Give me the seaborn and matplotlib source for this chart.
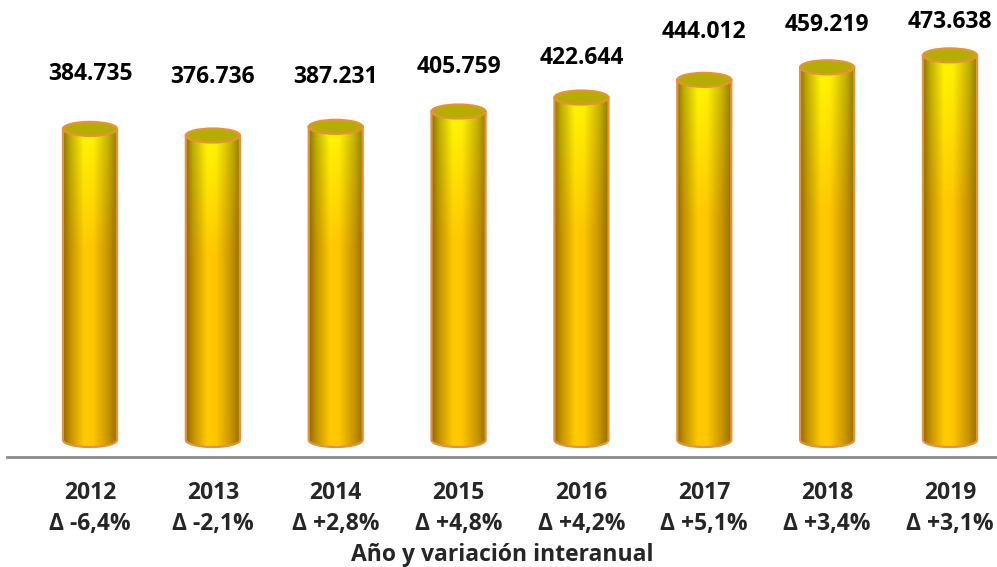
import numpy as np
import pandas as pd
import matplotlib
matplotlib.use("Agg")
import matplotlib.pyplot as plt
import seaborn as sns
from matplotlib.path import Path
from matplotlib.patches import PathPatch, Ellipse
from matplotlib.colors import LinearSegmentedColormap

# ---- data ----
years = ["2012", "2013", "2014", "2015", "2016", "2017", "2018", "2019"]
values = [384735, 376736, 387231, 405759, 422644, 444012, 459219, 473638]
variations = ["Δ -6,4%", "Δ -2,1%", "Δ +2,8%", "Δ +4,8%", "Δ +4,2%", "Δ +5,1%", "Δ +3,4%", "Δ +3,1%"]
x_title = "Año y variación interanual"

# style: label offset above bar top (pixels)
label_offset_px = [55, 58, 50, 44, 40, 48, 42, 33]

sns.set_theme(style="white")
plt.rcParams["font.family"] = ["Open Sans", "DejaVu Sans"]

fig = plt.figure(figsize=(9.97, 5.67), dpi=100)
ax = fig.add_axes([7 / 997, 110 / 567, 990 / 997, 457 / 567])

df = pd.DataFrame({"year": years, "value": values})
sns.barplot(data=df, x="year", y="value", ax=ax, width=0.44, color="#FFC800")

ax.set_xlim(-0.6756, 7.3826)
ax.set_ylim(-12100, 540600)

# px per data unit along y
px_per_unit = 0.8268 / 1000.0
eh = 14.0 / px_per_unit  # ellipse full height in data units

# gradient colormaps (horizontal profile)
top_cmap = LinearSegmentedColormap.from_list("top", [
    (0.0, "#8A7800"), (0.12, "#BCAE00"), (0.38, "#FFF800"), (0.55, "#FFF400"),
    (0.82, "#C8B600"), (1.0, "#8E7C00")])
bot_cmap = LinearSegmentedColormap.from_list("bot", [
    (0.0, "#8E6C00"), (0.12, "#C09000"), (0.38, "#FFCA00"), (0.55, "#FFC600"),
    (0.82, "#C89600"), (1.0, "#946E00")])

nx, ny = 120, 300
xs = np.linspace(0, 1, nx)
top_rgb = top_cmap(xs)[:, :3]
bot_rgb = bot_cmap(xs)[:, :3]

outline = "#E8903C"

for bar, v, off in zip(ax.patches, values, label_offset_px):
    x0 = bar.get_x()
    w = bar.get_width()
    h = bar.get_height()
    cx = x0 + w / 2
    bar.set_facecolor("none")
    bar.set_edgecolor("none")

    e = eh / 2
    # body path: rectangle with lower elliptical arc
    theta = np.linspace(0, -np.pi, 60)
    arc = np.column_stack([cx + (w / 2) * np.cos(theta), e + (eh / 2) * np.sin(theta)])
    verts = np.vstack([[x0, h], [x0 + w, h], [x0 + w, e], arc[1:-1], [x0, e], [x0, h]])
    codes = [Path.MOVETO] + [Path.LINETO] * (len(verts) - 2) + [Path.CLOSEPOLY]
    body = PathPatch(Path(verts, codes), facecolor="none", edgecolor=outline, lw=1.6, zorder=3)
    ax.add_patch(body)

    t = np.linspace(0, 1, ny)[:, None, None]  # 0 top -> 1 bottom
    blend = np.clip(t / 0.38, 0, 1)
    img = (1 - blend) * top_rgb[None, :, :] + blend * bot_rgb[None, :, :]
    im = ax.imshow(img, extent=[x0, x0 + w, 0, h], aspect="auto", origin="upper",
                   interpolation="bilinear", zorder=2)
    im.set_clip_path(body)

    top = Ellipse((cx, h), w, eh, facecolor="#B5AE00", edgecolor=outline, lw=1.6, zorder=4)
    ax.add_patch(top)

    label = f"{v:,}".replace(",", ".")
    ax.annotate(label, (cx, h), xytext=(0, off * 0.72), textcoords="offset points",
                ha="center", va="center", fontsize=16.5, fontweight="bold", color="black")

ax.set_xticks(range(len(years)))
ax.set_xticklabels([f"{y}\n{d}" for y, d in zip(years, variations)],
                   fontsize=16.5, fontweight="bold", linespacing=1.4)
ax.tick_params(axis="x", length=0, pad=17)
ax.set_yticks([])
ax.set_xlabel(x_title, fontsize=16.5, fontweight="bold", labelpad=5)
ax.set_ylabel("")

for s in ["top", "right", "left"]:
    ax.spines[s].set_visible(False)
ax.spines["bottom"].set_color("#8C8C8C")
ax.spines["bottom"].set_linewidth(2.0)
ax.set_facecolor("white")
fig.patch.set_facecolor("white")

fig.savefig("out.png", dpi=100)
